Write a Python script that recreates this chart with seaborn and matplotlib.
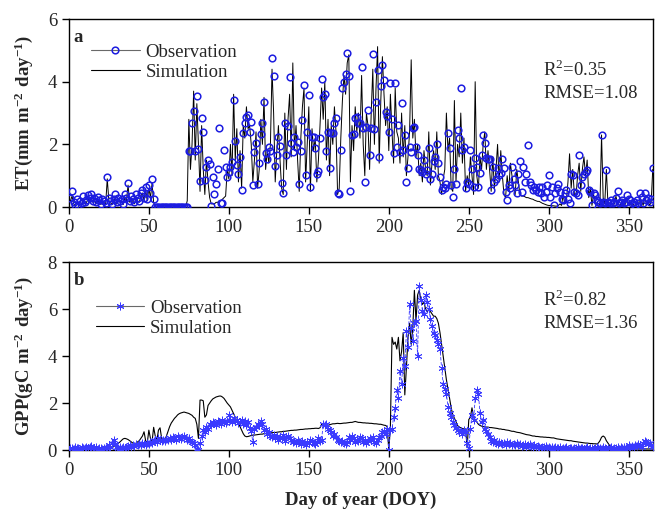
import numpy as np
import pandas as pd
import seaborn as sns
import matplotlib
matplotlib.use("Agg")
import matplotlib.pyplot as plt
from matplotlib.lines import Line2D

# day of year
doy = np.arange(1, 366)

# ET observation (mm m-2 day-1)
et_obs = [
    0.30, 0.52, 0.15, 0.08, 0.25, 0.05, 0.20, 0.12, 0.35, 0.15,
    0.22, 0.38, 0.30, 0.42, 0.20, 0.28, 0.15, 0.32, 0.22, 0.10,
    0.25, 0.18, 0.12, 0.95, 0.30, 0.20, 0.10, 0.25, 0.40, 0.15,
    0.30, 0.20, 0.25, 0.10, 0.40, 0.30, 0.77, 0.20, 0.35, 0.25,
    0.15, 0.40, 0.30, 0.20, 0.45, 0.55, 0.30, 0.65, 0.25, 0.70,
    0.45, 0.89, 0.25, 0.00, 0.00, 0.00, 0.00, 0.00, 0.00, 0.00,
    0.00, 0.00, 0.00, 0.00, 0.00, 0.00, 0.00, 0.00, 0.00, 0.00,
    0.00, 0.00, 0.00, 0.00, 1.80, 1.80, 2.69, 3.08, 1.80, 3.55,
    1.85, 0.83, 2.83, 2.39, 0.86, 1.27, 1.50, 1.37, 0.04, 0.97,
    0.41, 0.75, 1.20, 2.53, 0.14, 0.12, 1.82, 1.29, 0.95, 1.13,
    1.29, 1.45, 3.42, 2.10, 1.34, 1.07, 1.60, 0.54, 2.35, 2.67,
    2.88, 2.94, 2.40, 2.72, 0.70, 1.77, 2.03, 0.75, 1.41, 2.33,
    2.67, 3.36, 1.71, 1.52, 1.93, 1.79, 4.75, 4.18, 1.31, 1.66,
    2.24, 1.94, 0.78, 0.44, 2.69, 1.66, 2.59, 4.14, 2.03, 1.77,
    2.24, 1.93, 2.09, 0.75, 1.80, 2.78, 3.89, 1.02, 2.40, 3.58,
    0.65, 2.24, 2.24, 1.87, 1.07, 1.16, 2.20, 4.09, 3.52, 3.61,
    1.80, 2.40, 1.24, 2.35, 2.35, 2.67, 2.83, 0.44, 0.41, 1.82,
    3.79, 4.00, 4.25, 4.91, 4.18, 0.52, 2.30, 2.32, 2.83, 2.87,
    2.69, 2.67, 4.46, 2.51, 0.81, 2.56, 3.10, 1.66, 2.53, 4.89,
    2.48, 3.36, 4.37, 1.61, 3.87, 4.53, 4.06, 3.04, 2.90, 2.40,
    3.97, 2.80, 1.71, 3.95, 1.93, 2.62, 1.77, 3.33, 1.82, 2.30,
    0.81, 1.24, 1.93, 1.77, 2.51, 2.56, 1.93, 1.66, 1.20, 1.18,
    1.13, 1.50, 1.07, 1.18, 1.87, 0.91, 1.07, 1.48, 1.60, 2.01,
    1.40, 0.97, 0.54, 0.65, 0.60, 0.75, 2.35, 1.87, 0.70, 0.33,
    1.20, 0.75, 2.46, 2.19, 3.79, 1.82, 1.93, 0.60, 0.81, 0.75,
    1.82, 1.20, 0.65, 1.55, 1.29, 0.65, 1.10, 1.66, 2.30, 2.03,
    1.55, 1.52, 1.52, 0.54, 1.29, 0.81, 0.91, 1.24, 1.02, 1.10,
    1.52, 1.24, 0.49, 0.22, 0.70, 0.60, 1.29, 0.90, 0.70, 0.44,
    1.07, 1.48, 0.49, 1.29, 0.81, 1.07, 1.98, 0.81, 0.70, 0.54,
    0.65, 0.54, 0.49, 0.65, 0.46, 0.65, 0.33, 0.49, 0.70, 1.02,
    0.33, 0.65, 0.06, 0.44, 0.60, 0.75, 0.49, 0.27, 0.22, 0.44,
    0.54, 0.27, 0.14, 1.07, 1.02, 0.49, 0.44, 0.38, 1.66, 0.70,
    0.97, 1.07, 1.13, 1.18, 0.54, 0.49, 0.06, 0.44, 0.38, 0.22,
    0.15, 0.12, 2.30, 0.17, 0.12, 1.18, 0.17, 0.12, 0.22, 0.12,
    0.17, 0.30, 0.52, 0.12, 0.17, 0.22, 0.12, 0.17, 0.38, 0.27,
    0.22, 0.12, 0.17, 0.06, 0.22, 0.12, 0.44, 0.33, 0.12, 0.44,
    0.22, 0.30, 0.15, 0.25, 1.24,
]

# ET simulation
et_sim = [
    0.20, 0.35, 0.10, 0.05, 0.15, 0.05, 0.10, 0.08, 0.20, 0.10,
    0.15, 0.25, 0.20, 0.30, 0.15, 0.20, 0.10, 0.20, 0.15, 0.08,
    0.15, 0.12, 0.10, 0.90, 0.20, 0.15, 0.08, 0.15, 0.30, 0.10,
    0.20, 0.15, 0.18, 0.08, 0.30, 0.20, 0.70, 0.15, 0.25, 0.18,
    0.10, 0.30, 0.20, 0.15, 0.35, 0.45, 0.20, 0.55, 0.20, 0.60,
    0.30, 0.75, 0.15, 0.00, 0.00, 0.00, 0.00, 0.00, 0.00, 0.00,
    0.00, 0.00, 0.00, 0.00, 0.00, 0.00, 0.00, 0.00, 0.00, 0.00,
    0.00, 0.00, 0.00, 0.20, 2.80, 1.20, 2.00, 3.70, 1.50, 3.30,
    2.00, 0.50, 2.60, 1.20, 0.40, 1.50, 0.80, 0.30, 0.10, 0.10,
    0.10, 0.15, 0.15, 0.20, 0.20, 0.25, 0.30, 0.35, 1.20, 0.90,
    2.00, 1.00, 3.60, 1.50, 2.50, 0.80, 1.80, 0.60, 2.60, 2.20,
    3.20, 2.50, 2.60, 2.00, 0.80, 1.50, 2.40, 0.60, 1.20, 2.80,
    2.00, 3.50, 1.20, 1.80, 1.40, 2.00, 4.40, 3.00, 0.80, 1.80,
    2.60, 1.50, 0.60, 0.40, 3.00, 1.20, 2.80, 3.60, 1.60, 4.60,
    1.80, 2.60, 1.50, 0.50, 2.20, 3.20, 3.80, 0.80, 2.00, 3.20,
    0.50, 2.50, 1.80, 2.20, 0.80, 1.50, 2.60, 3.80, 2.80, 4.00,
    1.50, 2.80, 1.00, 2.60, 2.00, 3.20, 2.40, 0.40, 0.60, 2.20,
    3.40, 4.20, 3.60, 4.60, 4.86, 0.80, 2.60, 1.80, 3.20, 2.40,
    3.00, 2.20, 4.20, 2.00, 1.00, 3.00, 2.60, 1.20, 3.00, 4.40,
    2.00, 3.80, 5.12, 1.40, 3.40, 4.80, 3.60, 2.60, 3.20, 1.80,
    3.60, 2.40, 1.40, 3.80, 2.40, 2.20, 1.40, 3.00, 1.60, 2.60,
    1.00, 1.60, 2.40, 4.70, 2.20, 2.80, 1.60, 2.00, 1.00, 1.40,
    0.80, 1.80, 1.20, 1.00, 2.40, 0.70, 1.40, 1.80, 1.20, 2.40,
    1.00, 0.80, 0.40, 0.90, 1.20, 3.00, 1.80, 2.20, 0.60, 0.50,
    3.40, 0.80, 2.00, 1.60, 3.00, 1.40, 2.20, 0.50, 1.00, 0.70,
    1.60, 1.00, 0.40, 4.00, 1.00, 0.60, 1.60, 1.20, 2.00, 2.40,
    1.20, 1.80, 1.20, 0.50, 1.60, 0.60, 1.20, 2.00, 0.80, 1.80,
    1.00, 0.40, 0.30, 1.00, 0.50, 1.40, 1.00, 0.60, 0.40, 1.20,
    0.80, 0.40, 0.35, 0.35, 0.33, 0.30, 0.30, 0.28, 0.26, 0.25,
    0.22, 0.20, 0.18, 0.18, 0.15, 0.12, 0.10, 0.08, 0.06, 0.05,
    0.05, 0.04, 0.04, 0.03, 0.03, 0.05, 0.10, 0.05, 0.40, 0.10,
    0.20, 0.80, 1.70, 0.60, 1.20, 0.40, 0.30, 1.00, 1.40, 0.50,
    1.20, 1.60, 1.00, 1.50, 0.30, 0.60, 0.05, 0.40, 0.20, 0.10,
    0.10, 0.08, 2.30, 0.30, 0.10, 1.20, 0.10, 0.05, 0.10, 0.05,
    0.10, 0.35, 0.10, 0.05, 0.08, 0.10, 0.05, 0.10, 0.25, 0.10,
    0.10, 0.05, 0.08, 0.03, 0.10, 0.05, 0.30, 0.20, 0.05, 0.30,
    0.10, 0.20, 0.05, 0.15, 1.20,
]

# GPP observation (gC m-2 day-1)
gpp_obs = [
    0.08, 0.10, 0.05, 0.12, 0.08, 0.10, 0.06, 0.12, 0.10, 0.08,
    0.15, 0.10, 0.12, 0.18, 0.10, 0.08, 0.12, 0.06, 0.10, 0.08,
    0.05, 0.10, 0.08, 0.12, 0.20, 0.15, 0.30, 0.43, 0.25, 0.15,
    0.10, 0.12, 0.08, 0.15, 0.10, 0.12, 0.18, 0.20, 0.15, 0.22,
    0.18, 0.25, 0.20, 0.28, 0.22, 0.30, 0.25, 0.20, 0.32, 0.28,
    0.35, 0.30, 0.40, 0.45, 0.35, 0.50, 0.42, 0.38, 0.45, 0.40,
    0.48, 0.42, 0.50, 0.45, 0.55, 0.50, 0.45, 0.60, 0.52, 0.48,
    0.55, 0.60, 0.50, 0.45, 0.52, 0.40, 0.35, 0.30, 0.20, 0.05,
    0.00, 0.30, 0.60, 0.85, 0.75, 1.00, 0.90, 1.10, 1.05, 1.20,
    1.15, 1.05, 1.25, 1.20, 1.10, 1.30, 1.20, 1.15, 1.25, 1.50,
    1.30, 1.20, 1.35, 1.25, 1.30, 1.15, 1.20, 1.30, 1.10, 1.25,
    1.05, 1.20, 0.95, 0.80, 0.35, 0.90, 1.00, 1.10, 1.05, 1.25,
    1.10, 0.85, 0.90, 0.70, 0.75, 0.60, 0.55, 0.65, 0.50, 0.60,
    0.45, 0.55, 0.50, 0.65, 0.40, 0.55, 0.60, 0.50, 0.45, 0.35,
    0.40, 0.30, 0.45, 0.35, 0.25, 0.40, 0.30, 0.20, 0.35, 0.30,
    0.45, 0.40, 0.30, 0.25, 0.35, 0.50, 0.40, 0.45, 1.10, 1.05,
    1.10, 0.90, 0.85, 0.75, 0.60, 0.70, 0.55, 0.45, 0.40, 0.35,
    0.40, 0.30, 0.25, 0.35, 0.55, 0.45, 0.60, 0.50, 0.35, 0.45,
    0.40, 0.55, 0.50, 0.35, 0.45, 0.30, 0.40, 0.50, 0.45, 0.55,
    0.35, 0.30, 0.45, 0.55, 0.60, 0.75, 0.80, 0.70, 0.90, 0.00,
    0.85, 0.90, 1.40, 1.80, 2.57, 2.20, 3.36, 2.80, 3.93, 3.60,
    5.08, 4.40, 6.20, 5.20, 4.65, 5.40, 5.50, 4.00, 7.00, 6.40,
    5.94, 5.80, 6.60, 6.30, 6.00, 5.60, 5.30, 5.00, 4.90, 4.70,
    4.50, 4.30, 3.50, 2.80, 2.60, 2.40, 1.85, 1.60, 1.40, 1.20,
    1.06, 0.95, 0.85, 0.76, 0.80, 0.70, 0.85, 0.75, 0.30, 0.10,
    0.90, 1.50, 1.30, 2.20, 2.57, 2.40, 1.60, 1.20, 1.30, 0.90,
    0.80, 0.70, 0.55, 0.40, 0.35, 0.45, 0.30, 0.25, 0.35, 0.30,
    0.25, 0.30, 0.20, 0.35, 0.25, 0.30, 0.20, 0.28, 0.22, 0.30,
    0.20, 0.25, 0.18, 0.22, 0.28, 0.15, 0.20, 0.25, 0.18, 0.15,
    0.20, 0.12, 0.18, 0.15, 0.10, 0.15, 0.12, 0.18, 0.10, 0.12,
    0.08, 0.12, 0.10, 0.15, 0.08, 0.10, 0.12, 0.06, 0.10, 0.08,
    0.12, 0.06, 0.10, 0.08, 0.05, 0.10, 0.08, 0.12, 0.06, 0.08,
    0.10, 0.05, 0.08, 0.15, 0.06, 0.10, 0.08, 0.05, 0.10, 0.12,
    0.08, 0.10, 0.06, 0.12, 0.08, 0.05, 0.10, 0.08, 0.12, 0.06,
    0.10, 0.08, 0.12, 0.06, 0.15, 0.10, 0.12, 0.08, 0.15, 0.20,
    0.12, 0.18, 0.15, 0.22, 0.18, 0.25, 0.20, 0.15, 0.30, 0.40,
    0.35, 0.25, 0.30, 0.20, 0.15,
]

# GPP simulation
gpp_sim = [
    0.05, 0.05, 0.05, 0.05, 0.05, 0.05, 0.05, 0.05, 0.05, 0.05,
    0.05, 0.05, 0.05, 0.05, 0.05, 0.05, 0.05, 0.05, 0.05, 0.05,
    0.05, 0.05, 0.05, 0.05, 0.06, 0.08, 0.10, 0.15, 0.20, 0.25,
    0.30, 0.35, 0.42, 0.48, 0.50, 0.48, 0.45, 0.40, 0.35, 0.30,
    0.25, 0.30, 0.35, 0.40, 0.50, 0.60, 0.78, 0.40, 0.30, 0.85,
    0.50, 0.35, 0.97, 0.60, 0.40, 0.85, 0.95, 0.50, 0.40, 0.45,
    0.60, 0.80, 1.00, 1.15, 1.25, 1.35, 1.42, 1.50, 1.55, 1.58,
    1.60, 1.62, 1.60, 1.58, 1.56, 1.52, 1.48, 1.40, 1.35, 1.10,
    0.50, 2.13, 2.13, 2.10, 1.40, 1.50, 1.90, 2.00, 2.10, 2.18,
    2.22, 2.26, 2.28, 2.30, 2.30, 2.26, 2.20, 2.10, 2.00, 1.92,
    1.84, 1.70, 1.55, 1.40, 1.25, 1.13, 1.00, 0.85, 0.70, 0.60,
    0.57, 0.58, 0.60, 0.62, 0.64, 0.64, 0.65, 0.66, 0.67, 0.68,
    0.68, 0.70, 0.70, 0.72, 0.72, 0.73, 0.74, 0.75, 0.75, 0.76,
    0.77, 0.78, 0.78, 0.80, 0.80, 0.81, 0.82, 0.83, 0.84, 0.84,
    0.85, 0.85, 0.86, 0.87, 0.88, 0.88, 0.89, 0.90, 0.90, 0.91,
    0.91, 0.92, 0.92, 0.93, 0.93, 0.92, 0.95, 1.10, 1.05, 1.00,
    1.02, 1.05, 1.08, 1.10, 1.12, 1.12, 1.13, 1.14, 1.13, 1.13,
    1.14, 1.15, 1.15, 1.16, 1.17, 1.18, 1.18, 1.20, 1.22, 1.20,
    1.18, 1.18, 1.17, 1.16, 1.16, 1.15, 1.15, 1.14, 1.14, 1.13,
    1.12, 1.12, 1.11, 1.10, 1.10, 1.08, 1.06, 1.05, 1.00, 0.00,
    1.00, 4.80, 4.50, 4.60, 4.30, 4.80, 3.80, 4.20, 5.00, 2.35,
    3.50, 4.80, 5.40, 4.50, 5.20, 6.80, 5.50, 6.60, 6.80, 6.40,
    6.20, 6.30, 6.00, 5.90, 6.00, 5.90, 5.80, 5.70, 5.70, 5.60,
    5.40, 5.00, 4.50, 4.00, 3.50, 3.00, 2.60, 2.20, 1.80, 1.50,
    1.36, 1.20, 1.05, 0.98, 0.95, 0.92, 0.90, 0.90, 0.10, 1.30,
    1.40, 1.80, 1.40, 1.30, 1.20, 1.10, 1.05, 1.02, 1.00, 1.00,
    0.98, 0.98, 0.96, 0.96, 0.95, 0.94, 0.93, 0.92, 0.90, 0.90,
    0.88, 0.88, 0.86, 0.85, 0.84, 0.82, 0.80, 0.80, 0.78, 0.76,
    0.75, 0.74, 0.72, 0.70, 0.68, 0.66, 0.65, 0.64, 0.62, 0.60,
    0.60, 0.58, 0.58, 0.57, 0.56, 0.56, 0.55, 0.55, 0.54, 0.54,
    0.53, 0.52, 0.52, 0.50, 0.48, 0.47, 0.46, 0.45, 0.44, 0.43,
    0.42, 0.41, 0.40, 0.40, 0.38, 0.37, 0.36, 0.35, 0.34, 0.33,
    0.32, 0.31, 0.30, 0.30, 0.29, 0.28, 0.28, 0.27, 0.27, 0.26,
    0.30, 0.40, 0.55, 0.60, 0.55, 0.40, 0.30, 0.20, 0.12, 0.08,
    0.06, 0.05, 0.05, 0.05, 0.05, 0.05, 0.05, 0.05, 0.05, 0.05,
    0.05, 0.05, 0.05, 0.05, 0.05, 0.05, 0.05, 0.05, 0.05, 0.05,
    0.05, 0.05, 0.05, 0.05, 0.05,
]

df = pd.DataFrame({"doy": doy, "et_obs": et_obs, "et_sim": et_sim,
                   "gpp_obs": gpp_obs, "gpp_sim": gpp_sim})

sns.set_style("ticks")
plt.rcParams["font.family"] = ["Liberation Serif", "DejaVu Serif"]
plt.rcParams["mathtext.fontset"] = "custom"
plt.rcParams["mathtext.rm"] = "Liberation Serif"
plt.rcParams["mathtext.bf"] = "Liberation Serif:bold"

blue = "#1c1ce0"
star_blue = "#3a3aff"
star = (6, 2, 0)
fs = 13.5

fig = plt.figure(figsize=(6.59, 5.15), dpi=100)
ax1 = fig.add_axes([0.1045, 0.598, 0.886, 0.365])
ax2 = fig.add_axes([0.1045, 0.126, 0.886, 0.365])

# --- panel a: ET
sns.lineplot(data=df, x="doy", y="et_sim", ax=ax1, color="black", lw=0.7, zorder=2)
sns.lineplot(data=df, x="doy", y="et_obs", ax=ax1, linestyle="none", marker="o",
             markersize=4.8, markerfacecolor="none", markeredgecolor=blue,
             markeredgewidth=1.1, zorder=3)
ax1.set_ylim(0, 6)
ax1.set_yticks([0, 2, 4, 6])
ax1.set_ylabel(r"$\mathbf{ET(mm\ m^{-2}\ day^{-1})}$", fontsize=fs)

h_a = [Line2D([], [], color="dimgray", lw=0.8, marker="o", markersize=4.8,
              markerfacecolor="none", markeredgecolor=blue, markeredgewidth=1.1),
       Line2D([], [], color="black", lw=0.8)]
ax1.legend(h_a, ["Observation", "Simulation"], loc="upper left",
           bbox_to_anchor=(0.025, 0.91), frameon=False, fontsize=fs,
           handlelength=2.6, handletextpad=0.3, labelspacing=0.15, borderaxespad=0)
ax1.text(0.008, 0.904, "a", transform=ax1.transAxes, fontsize=fs,
         fontweight="bold", ha="left", va="center")
ax1.text(0.812, 0.729, r"R$^2$=0.35", transform=ax1.transAxes, fontsize=fs, va="center")
ax1.text(0.812, 0.606, "RMSE=1.08", transform=ax1.transAxes, fontsize=fs, va="center")

# --- panel b: GPP
sns.lineplot(data=df, x="doy", y="gpp_sim", ax=ax2, color="black", lw=0.8, zorder=2)
sns.lineplot(data=df, x="doy", y="gpp_obs", ax=ax2, color=star_blue, lw=0.6,
             linestyle=(0, (4, 2)), marker=star, markersize=5.5,
             markeredgecolor=star_blue, markeredgewidth=0.6, zorder=3)
ax2.set_ylim(0, 8)
ax2.set_yticks([0, 2, 4, 6, 8])
ax2.set_ylabel(r"$\mathbf{GPP(gC\ m^{-2}\ day^{-1})}$", fontsize=fs)
ax2.set_xlabel("Day of year (DOY)", fontsize=fs, fontweight="bold")

h_b = [Line2D([], [], color="dimgray", lw=0.8, marker=star, markersize=5.5,
              markeredgecolor=star_blue, markeredgewidth=0.7),
       Line2D([], [], color="black", lw=0.8)]
ax2.legend(h_b, ["Observation", "Simulation"], loc="upper left",
           bbox_to_anchor=(0.033, 0.84), frameon=False, fontsize=fs,
           handlelength=2.6, handletextpad=0.3, labelspacing=0.15, borderaxespad=0)
ax2.text(0.008, 0.904, "b", transform=ax2.transAxes, fontsize=fs,
         fontweight="bold", ha="left", va="center")
ax2.text(0.812, 0.803, r"R$^2$=0.82", transform=ax2.transAxes, fontsize=fs, va="center")
ax2.text(0.812, 0.676, "RMSE=1.36", transform=ax2.transAxes, fontsize=fs, va="center")

for ax in (ax1, ax2):
    ax.set_xlim(0, 365)
    ax.set_xticks(range(0, 351, 50))
    ax.tick_params(direction="out", length=5, width=1, labelsize=fs, color="black")
    for s in ax.spines.values():
        s.set_visible(True)
        s.set_linewidth(1)
        s.set_color("black")
    ax.yaxis.set_label_coords(-0.058, 0.5)
ax1.set_xlabel("")
ax2.xaxis.set_label_coords(0.5, -0.22)

fig.savefig("out.png", dpi=100)
